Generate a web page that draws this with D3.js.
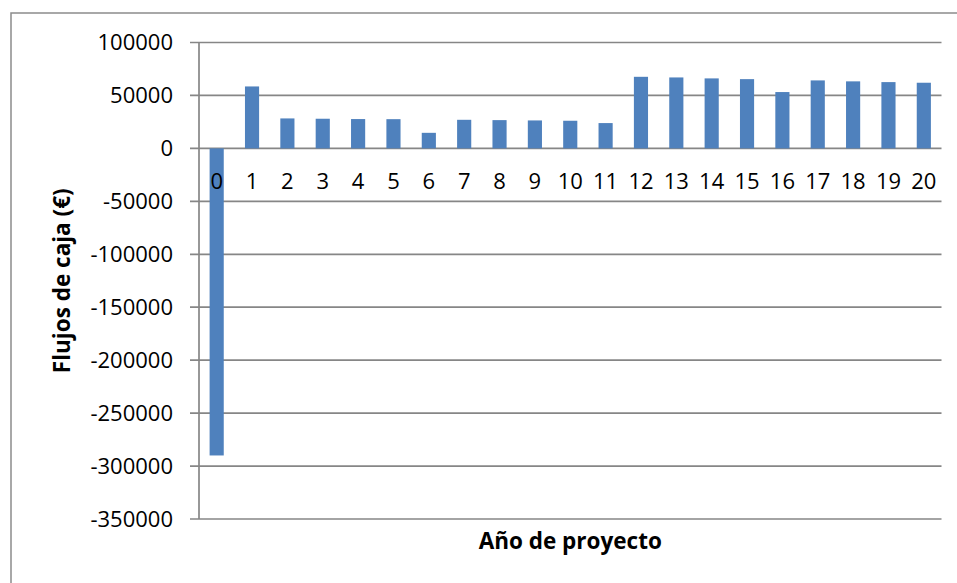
<!DOCTYPE html>
<html><head><meta charset="utf-8">
<script src="https://cdn.jsdelivr.net/npm/d3@7"></script>
<style>body{margin:0;background:#fff}svg{display:block}</style>
</head><body>
<svg id="c" width="957" height="583"></svg>
<script>
const years = ["0","1","2","3","4","5","6","7","8","9","10","11","12","13","14","15","16","17","18","19","20"];
const cashFlows = [-290000,58500,28300,28000,27700,27600,14700,27000,26700,26400,26100,23900,67600,67000,66100,65400,53200,64200,63300,62600,62000];
const yTicks = [100000,50000,0,-50000,-100000,-150000,-200000,-250000,-300000,-350000];
const xTitle = "Año de proyecto";
const yTitle = "Flujos de caja (€)";

const svg = d3.select("#c");
const m = {l:199, r:941.5, t:42.5, b:519};
const x = d3.scaleBand().domain(years).range([m.l, m.r]).paddingInner(0.6).paddingOuter(0.3);
const y = d3.scaleLinear().domain([-350000,100000]).range([m.b, m.t]);
const font = "'Open Sans', sans-serif";
const grid = "#868686";

svg.append("rect").attr("x",11).attr("y",13).attr("width",960).attr("height",600)
  .attr("fill","#fff").attr("stroke","#8c8c8c").attr("stroke-width",1.5);

// gridlines
svg.append("g").selectAll("line").data(yTicks).join("line")
  .attr("x1",m.l-9).attr("x2",m.r).attr("y1",d=>y(d)).attr("y2",d=>y(d))
  .attr("stroke",grid).attr("stroke-width",1.7);
// y axis line
svg.append("line").attr("x1",m.l).attr("x2",m.l).attr("y1",m.t).attr("y2",m.b)
  .attr("stroke",grid).attr("stroke-width",1.7);

// y labels
svg.append("g").selectAll("text").data(yTicks).join("text")
  .attr("x",173).attr("y",d=>y(d)).attr("dy","0.36em").attr("text-anchor","end")
  .attr("font-family",font).attr("font-size",22).attr("fill","#000").text(d=>d);

// bars
svg.append("g").selectAll("rect").data(cashFlows).join("rect")
  .attr("x",(d,i)=>x(years[i])).attr("width",x.bandwidth())
  .attr("y",d=>y(Math.max(0,d))).attr("height",d=>Math.abs(y(d)-y(0)))
  .attr("fill","#4f81bd");

// x category labels
svg.append("g").selectAll("text").data(years).join("text")
  .attr("x",d=>x(d)+x.bandwidth()/2).attr("y",y(0)+41).attr("text-anchor","middle")
  .attr("font-family",font).attr("font-size",22).attr("fill","#000").text(d=>d);

// titles
svg.append("text").attr("x",(m.l+m.r)/2).attr("y",549).attr("text-anchor","middle")
  .attr("font-family",font).attr("font-size",22.5).attr("font-weight","bold").text(xTitle);
svg.append("text").attr("transform",`translate(70,${(m.t+m.b)/2}) rotate(-90)`).attr("text-anchor","middle")
  .attr("font-family",font).attr("font-size",22.5).attr("font-weight","bold").text(yTitle);
</script>
</body></html>
